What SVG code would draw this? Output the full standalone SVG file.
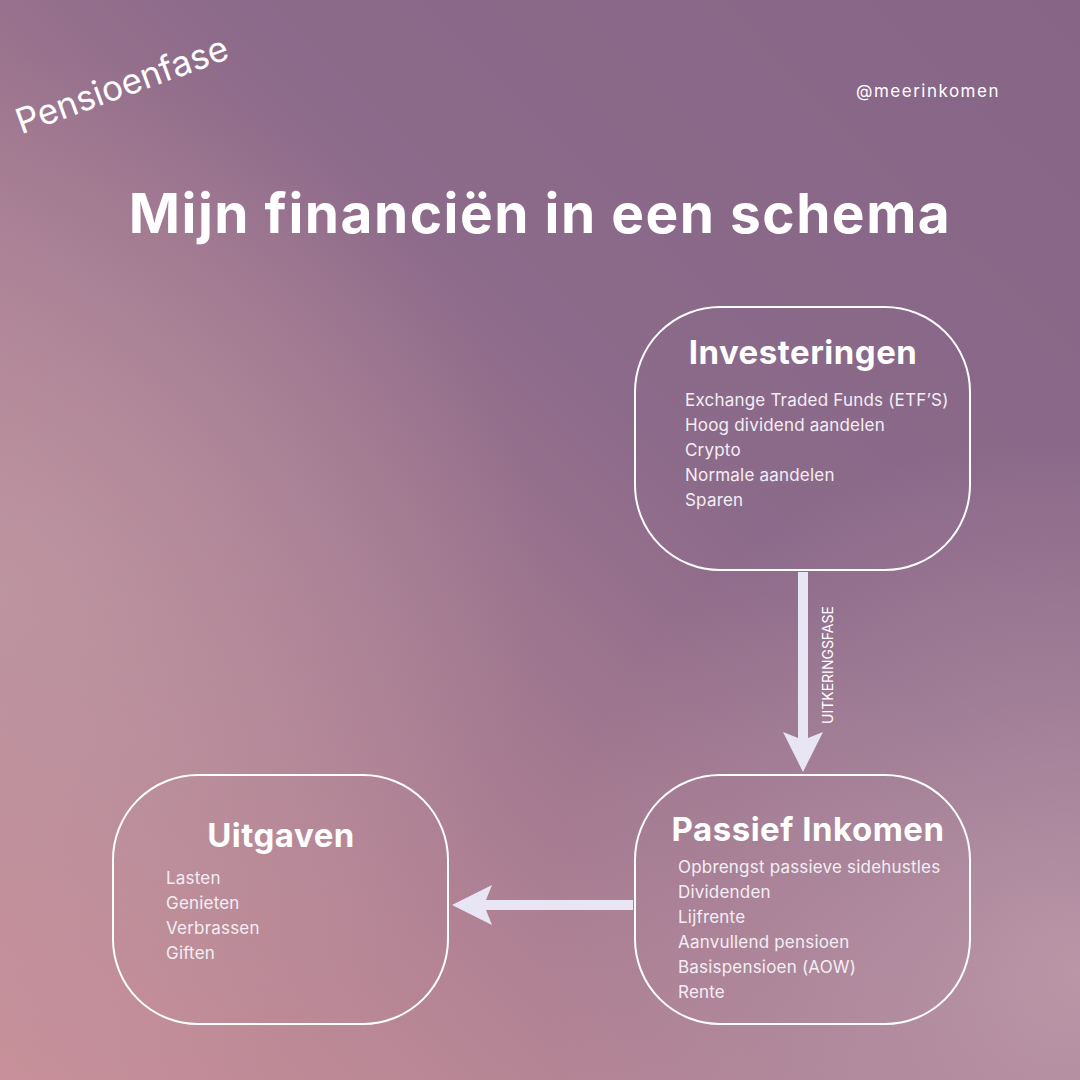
<svg xmlns="http://www.w3.org/2000/svg" width="1080" height="1080" viewBox="0 0 1080 1080">
<defs>
<linearGradient id="bg" x1="1" y1="0" x2="0" y2="1">
<stop offset="0" stop-color="#876586"/>
<stop offset="0.4" stop-color="#8c6a8a"/>
<stop offset="0.75" stop-color="#b58595"/>
<stop offset="1" stop-color="#c99099"/>
</linearGradient>
<radialGradient id="glow" cx="1" cy="0.9" r="0.5">
<stop offset="0" stop-color="#c4a0ad" stop-opacity="0.8"/>
<stop offset="1" stop-color="#c4a0ad" stop-opacity="0"/>
</radialGradient>
<radialGradient id="glow2" cx="0" cy="0.55" r="0.5">
<stop offset="0" stop-color="#c09aa5" stop-opacity="0.7"/>
<stop offset="1" stop-color="#c09aa5" stop-opacity="0"/>
</radialGradient>
<marker id="ah" markerWidth="4" markerHeight="4" refX="2" refY="2" orient="auto" markerUnits="strokeWidth">
<path d="M0,0 L4,2 L0,4 L0.8,2 Z" fill="#e8e6f5"/>
</marker>
</defs>
<style>
.box{fill:none;stroke:#ffffff;stroke-width:2}
.h{font-family:"Inter","Liberation Sans",sans-serif;font-weight:700;fill:#fff;font-size:33px;text-anchor:middle;letter-spacing:0.5px}
.t{font-family:"Inter","Liberation Sans",sans-serif;fill:#f4eef4;font-size:17px;letter-spacing:0.2px}
.c{stroke:#e8e6f5;stroke-width:10;fill:none}
</style>
<rect width="1080" height="1080" fill="url(#bg)"/>
<rect width="1080" height="1080" fill="url(#glow)"/>
<rect width="1080" height="1080" fill="url(#glow2)"/>
<text x="122" y="97" transform="rotate(-20 122 85)" font-family="Inter, Liberation Sans, sans-serif" font-size="35" fill="#fff" text-anchor="middle">Pensioenfase</text>
<text x="928" y="97" font-family="Inter, Liberation Sans, sans-serif" font-size="17" fill="#fff" text-anchor="middle" letter-spacing="1.5">@meerinkomen</text>
<text x="540" y="233" font-family="Inter, Liberation Sans, sans-serif" font-weight="700" font-size="55" fill="#fff" text-anchor="middle" letter-spacing="1.5">Mijn financiën in een schema</text>
<g id="connectors">
<line class="c" x1="803" y1="572" x2="803" y2="752" marker-end="url(#ah)"/>
<line class="c" x1="633" y1="905" x2="472" y2="905" marker-end="url(#ah)"/>
<text x="833" y="665" transform="rotate(-90 833 665)" font-family="Inter, Liberation Sans, sans-serif" font-size="14" fill="#fff" text-anchor="middle">UITKERINGSFASE</text>
</g>
<g id="investeringen">
<rect class="box" x="635" y="307" width="335" height="263" rx="85"/>
<text class="h" x="803" y="364">Investeringen</text>
<text class="t" x="685" y="406">Exchange Traded Funds (ETF’S)</text>
<text class="t" x="685" y="431">Hoog dividend aandelen</text>
<text class="t" x="685" y="456">Crypto</text>
<text class="t" x="685" y="481">Normale aandelen</text>
<text class="t" x="685" y="506">Sparen</text>
</g>
<g id="passief">
<rect class="box" x="635" y="775" width="335" height="249" rx="85"/>
<text class="h" x="808" y="841">Passief Inkomen</text>
<text class="t" x="678" y="873">Opbrengst passieve sidehustles</text>
<text class="t" x="678" y="898">Dividenden</text>
<text class="t" x="678" y="923">Lijfrente</text>
<text class="t" x="678" y="948">Aanvullend pensioen</text>
<text class="t" x="678" y="973">Basispensioen (AOW)</text>
<text class="t" x="678" y="998">Rente</text>
</g>
<g id="uitgaven">
<rect class="box" x="113" y="775" width="335" height="249" rx="85"/>
<text class="h" x="281" y="847">Uitgaven</text>
<text class="t" x="166" y="884">Lasten</text>
<text class="t" x="166" y="909">Genieten</text>
<text class="t" x="166" y="934">Verbrassen</text>
<text class="t" x="166" y="959">Giften</text>
</g>
</svg>
